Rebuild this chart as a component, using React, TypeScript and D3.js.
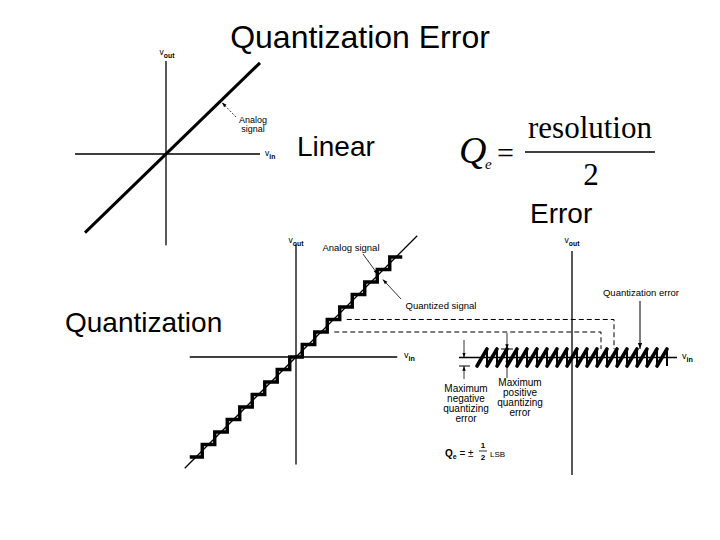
import * as React from "react";
import * as d3 from "d3";

const sans: string = "'Liberation Sans', Arial, Helvetica, sans-serif";
const serif: string = "'Liberation Serif', 'Times New Roman', serif";

// top-left diagram: analog transfer line (input range in units)
const analogInput: number[] = [-8.1, 9.4];
// middle diagram: quantizer output levels (LSB)
const quantLevels: number[] = [-8, -7, -6, -5, -4, -3, -2, -1, 0, 1, 2, 3, 4, 5, 6, 7, 8];
const quantAnalogInput: number[] = [-8.9, 9.7];
// right diagram: input positions of the error peaks (LSB)
const errorPeaks: number[] = [-8.5, -7.5, -6.5, -5.5, -4.5, -3.5, -2.5, -1.5, -0.5, 0.5, 1.5, 2.5, 3.5, 4.5, 5.5, 6.5, 7.5, 8.5, 9.5];
const errorRange: number[] = [-0.5, 0.5];
// dashed guides: quantizer level -> error diagram input
const dashedLevels: number[] = [3, 2];
const dashedTargets: number[] = [4.2, 2.9];
const negLabel: string[] = ["Maximum", "negative", "quantizing", "error"];
const posLabel: string[] = ["Maximum", "positive", "quantizing", "error"];

const Sub = (props: { x: number; y: number; main: string; sub: string; size?: number; anchor?: string }): JSX.Element => {
    const size: number = props.size || 8.5;
    return <text x={props.x} y={props.y} fontFamily={sans} fontSize={size} textAnchor={props.anchor || "middle"} fill="#000">
        {props.main}<tspan fontSize={size * 0.8} fontWeight="bold" dy={2.5}>{props.sub}</tspan>
    </text>;
};

export default function App(): JSX.Element {
    // scales
    const ax = d3.scaleLinear().domain([0, 1]).range([166, 176]);
    const ay = d3.scaleLinear().domain([0, 1]).range([154, 144.3]);
    const mx = d3.scaleLinear().domain([0, 1]).range([296, 308.5]);
    const my = d3.scaleLinear().domain([0, 1]).range([357, 344.5]);
    const rx = d3.scaleLinear().domain([0, 1]).range([572, 582]);
    const ry = d3.scaleLinear().domain(errorRange).range([366, 349]);

    const analogLine = d3.line<number>().x((d: number) => ax(d)).y((d: number) => ay(d));
    const quantAnalog = d3.line<number>().x((d: number) => mx(d)).y((d: number) => my(d));

    // staircase path
    const stairPts: [number, number][] = [];
    quantLevels.forEach((k: number) => {
        stairPts.push([mx(k - 0.5), my(k)]);
        stairPts.push([mx(k + 0.5), my(k)]);
    });
    const stair = d3.line()(stairPts);

    const lo: number = errorRange[0];
    const hi: number = errorRange[1];

    return <svg width={720} height={540} style={{ position: "absolute", left: 0, top: 0, background: "#fff" }}>
        <defs>
            <marker id="ah" viewBox="0 0 10 10" refX="10" refY="5" markerWidth="6" markerHeight="6" orient="auto-start-reverse">
                <path d="M0,1.5 L10,5 L0,8.5 Z" fill="#000" />
            </marker>
        </defs>
        <rect x={0} y={0} width={720} height={540} fill="#fff" />

        {/* headings */}
        <text x={360} y={48} textAnchor="middle" fontFamily={sans} fontSize={32}>Quantization Error</text>
        <text x={297} y={156} fontFamily={sans} fontSize={28}>Linear</text>
        <text x={530} y={223} fontFamily={sans} fontSize={28}>Error</text>
        <text x={65} y={332} fontFamily={sans} fontSize={28}>Quantization</text>

        {/* formula */}
        <g fontFamily={serif} fill="#000">
            <text x={459} y={163} fontSize={38} fontStyle="italic">Q</text>
            <text x={485} y={169} fontSize={15} fontStyle="italic">e</text>
            <text x={497} y={163} fontSize={30}>=</text>
            <text x={590} y={138} fontSize={31} textAnchor="middle">resolution</text>
            <line x1={525} x2={655} y1={152} y2={152} stroke="#000" strokeWidth={1.5} />
            <text x={591} y={185} fontSize={31} textAnchor="middle">2</text>
        </g>

        {/* top-left analog diagram */}
        <g stroke="#000" fill="none">
            <line x1={ax(-9.1)} x2={ax(9.4)} y1={ay(0)} y2={ay(0)} strokeWidth={1.3} />
            <line x1={ax(0)} x2={ax(0)} y1={ay(-9.4)} y2={ay(9.6)} strokeWidth={1.3} />
            <path d={analogLine(analogInput) as string} strokeWidth={3} />
            <line x1={236} y1={117} x2={ax(5.6)} y2={ay(5.3)} strokeWidth={0.8} strokeDasharray="2,1.5" markerEnd="url(#ah)" />
        </g>
        <Sub x={ax(0) + 1} y={55} main="v" sub="out" />
        <Sub x={265} y={156} main="v" sub="in" anchor="start" />
        <text x={253} y={123} fontFamily={sans} fontSize={9} textAnchor="middle">Analog</text>
        <text x={253} y={132} fontFamily={sans} fontSize={9} textAnchor="middle">signal</text>

        {/* middle quantizer diagram */}
        <g stroke="#000" fill="none">
            <line x1={mx(-8.5)} x2={mx(8.1)} y1={my(0)} y2={my(0)} strokeWidth={1.3} />
            <line x1={mx(0)} x2={mx(0)} y1={my(-8.6)} y2={my(9.0)} strokeWidth={1.3} />
            <path d={stair as string} strokeWidth={3.4} strokeLinejoin="miter" />
            <path d={quantAnalog(quantAnalogInput) as string} strokeWidth={1.3} />
            {dashedLevels.map((lv: number, i: number) => (
                <path key={i}
                    d={`M${mx(lv + 0.5) + 7},${my(lv)} H${rx(dashedTargets[i])} V${ry(hi)}`}
                    strokeWidth={1} strokeDasharray="5,3" />
            ))}
            <line x1={363} y1={254} x2={mx(6.55)} y2={my(6.6)} strokeWidth={0.8} markerEnd="url(#ah)" />
            <line x1={401} y1={299} x2={mx(6.95)} y2={my(6.2)} strokeWidth={0.8} markerEnd="url(#ah)" />
        </g>
        <Sub x={mx(0)} y={243} main="v" sub="out" />
        <Sub x={404} y={358} main="v" sub="in" anchor="start" size={9} />
        <text x={351} y={251} fontFamily={sans} fontSize={9.5} textAnchor="middle">Analog signal</text>
        <text x={441} y={309} fontFamily={sans} fontSize={9.5} textAnchor="middle">Quantized signal</text>

        {/* right error diagram */}
        <g stroke="#000" fill="none">
            <line x1={rx(-11.3)} x2={rx(10.5)} y1={ry(0)} y2={ry(0)} strokeWidth={1.3} />
            <line x1={rx(0)} x2={rx(0)} y1={251} y2={475} strokeWidth={1.3} />
            {errorPeaks.map((p: number) => (
                <g key={p}>
                    <line x1={rx(p - 1)} y1={ry(lo)} x2={rx(p)} y2={ry(hi)} strokeWidth={3.6} strokeLinecap="round" />
                    <line x1={rx(p)} y1={ry(hi)} x2={rx(p)} y2={ry(lo)} strokeWidth={2} />
                </g>
            ))}
            {/* max negative error marks */}
            <line x1={rx(-11.3)} x2={rx(-10.2)} y1={ry(lo)} y2={ry(lo)} strokeWidth={1} />
            <line x1={rx(-10.8)} x2={rx(-10.8)} y1={340} y2={ry(0)} strokeWidth={0.8} markerEnd="url(#ah)" />
            <line x1={rx(-10.8)} x2={rx(-10.8)} y1={379} y2={ry(lo)} strokeWidth={0.8} markerEnd="url(#ah)" />
            {/* max positive error marks */}
            <line x1={rx(-7.1)} x2={rx(-5.9)} y1={ry(hi)} y2={ry(hi)} strokeWidth={1} />
            <line x1={rx(-6.5)} x2={rx(-6.5)} y1={333} y2={ry(hi)} strokeWidth={0.8} markerEnd="url(#ah)" />
            <line x1={rx(-6.5)} x2={rx(-6.5)} y1={378} y2={ry(0)} strokeWidth={0.8} markerEnd="url(#ah)" />
            {/* quantization error arrow */}
            <line x1={rx(6.8)} x2={rx(6.8)} y1={301} y2={ry(hi)} strokeWidth={1} markerEnd="url(#ah)" />
        </g>
        <Sub x={rx(0)} y={243} main="v" sub="out" />
        <Sub x={682} y={359} main="v" sub="in" anchor="start" size={9} />
        <text x={641} y={296} fontFamily={sans} fontSize={9.5} textAnchor="middle">Quantization error</text>
        {negLabel.map((s: string, i: number) => (
            <text key={"n" + i} x={466} y={392 + i * 10} fontFamily={sans} fontSize={10} textAnchor="middle">{s}</text>
        ))}
        {posLabel.map((s: string, i: number) => (
            <text key={"p" + i} x={520} y={386 + i * 10} fontFamily={sans} fontSize={10} textAnchor="middle">{s}</text>
        ))}
        <g fontFamily={sans} fill="#000">
            <text x={445} y={457} fontSize={10} fontWeight="bold">Q<tspan fontSize={7} dy={2}>e</tspan><tspan dy={-2} fontWeight="normal"> = ±</tspan></text>
            <text x={483} y={448} fontSize={8} fontWeight="bold" textAnchor="middle">1</text>
            <line x1={479} x2={487} y1={451} y2={451} stroke="#000" strokeWidth={0.8} />
            <text x={483} y={460} fontSize={8} fontWeight="bold" textAnchor="middle">2</text>
            <text x={490} y={457} fontSize={8}>LSB</text>
        </g>
    </svg>;
}
